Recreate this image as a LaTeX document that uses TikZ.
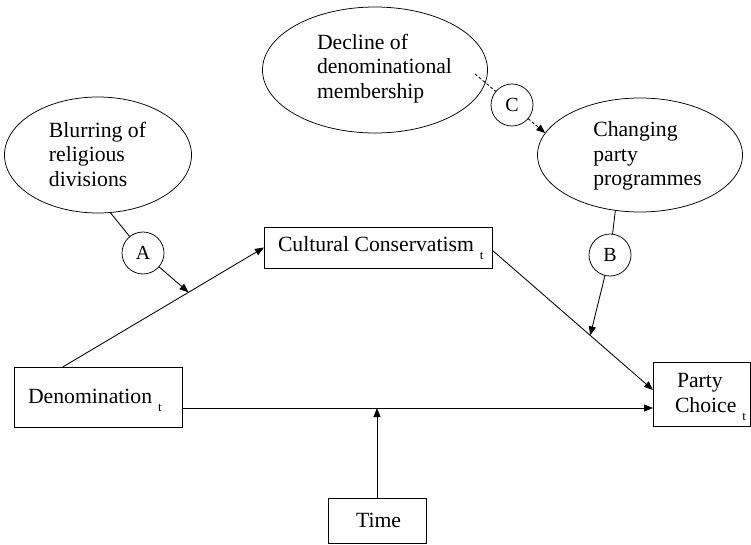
\documentclass[tikz,border=0pt]{standalone}
\usepackage{fontspec}
\setmainfont{Liberation Serif}
\usetikzlibrary{shapes.geometric,arrows.meta,calc}
\newcommand{\subtee}{\hspace{6pt}\raisebox{-8.5pt}{\fontsize{13}{13}\selectfont t}}
\begin{document}
\begin{tikzpicture}[x=1pt,y=-1pt,
  line width=0.85pt,
  every node/.style={inner sep=0pt, outer sep=0pt},
  oval/.style={draw, ellipse, line width=0.75pt},
  circ/.style={draw, circle, line width=0.75pt, minimum size=42pt, font=\fontsize{20}{20}\selectfont},
  boxn/.style={draw, rectangle, line width=0.85pt},
  txt/.style={font=\fontsize{21.7}{24.5}\selectfont, align=left},
  arr/.style={-{Triangle[length=9pt,width=7pt]}},
  dsh/.style={dash pattern=on 3pt off 2pt},
]
\useasboundingbox (0,0) rectangle (751,545);

% ellipses
\node[oval, minimum width=187pt, minimum height=116pt] (blur) at (98,155) {};
\node[txt] (blurT) at (97.5,154) {Blurring of\\religious\\divisions};
\node[oval, minimum width=225pt, minimum height=126pt] (dec) at (375,70) {};
\node[txt] (decT) at (384.5,68.5) {Decline of\\denominational\\membership};
\node[oval, minimum width=205pt, minimum height=114pt] (chg) at (640,155) {};
\node[txt] (chgT) at (647.5,156) {Changing\\party\\programmes};

% circles
\node[circ] (A) at (143,253) {A};
\node[circ] (B) at (610,255) {B};
\node[circ] (C) at (512,105) {C};

% boxes
\node[boxn, minimum width=168pt, minimum height=60pt] (den) at (98,397) {};
\node[txt, anchor=base west] (denT) at (28,403) {Denomination\subtee};
\node[boxn, minimum width=228pt, minimum height=41pt] (cult) at (378,247.5) {};
\node[txt, anchor=base west] (cultT) at (278,251) {Cultural Conservatism\subtee};
\node[boxn, minimum width=97pt, minimum height=64pt] (party) at (701.5,394) {};
\node[txt, anchor=base west] (partyT1) at (677,387) {Party};
\node[txt, anchor=base west] (partyT2) at (675,412) {Choice\subtee};
\node[boxn, minimum width=98pt, minimum height=45pt] (time) at (377,520.5) {};
\node[txt, anchor=base west] (timeT) at (356,527) {Time};

% connectors
\draw[arr] ($(den.north west)!0.29!(den.north east)$) -- (cult.west) coordinate[pos=0.625] (pA);
\draw (blur.-78) -- (A);
\draw[arr] (A) -- (pA);

\draw[arr] ([yshift=-2.5pt]cult.east) -- ([yshift=4pt]party.west) coordinate[pos=0.61] (pB);
\draw (chg.246) -- (B);
\draw[arr] (B) -- (pB);

\draw[arr] ([yshift=-11pt]den.east) coordinate (hl) -- ([yshift=-14pt]party.west);
\draw[arr] (time.north) -- (time.north |- hl);

\coordinate (cs) at (475,74);
\draw[dsh] (cs) -- (C);
\draw[dsh, arr] (C) -- (chg.167);
\end{tikzpicture}
\end{document}
